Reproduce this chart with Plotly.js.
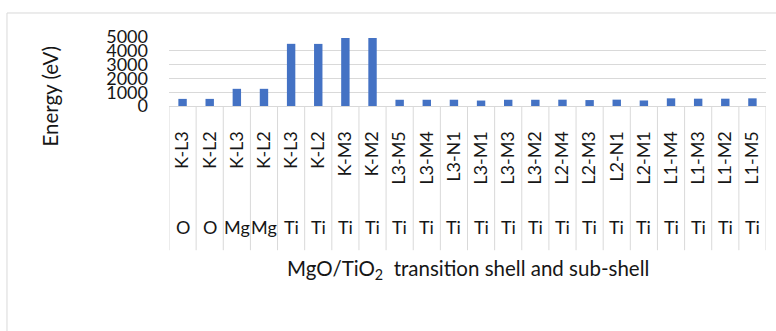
<!DOCTYPE html>
<html>
<head>
<meta charset="utf-8">
<script src="https://cdn.plot.ly/plotly-3.0.1.min.js"></script>
<style>html,body{margin:0;padding:0;background:#fff;}#chart{width:776px;height:331px;}</style>
</head>
<body>
<div id="chart"></div>
<script>
const elements = ["O","O","Mg","Mg","Ti","Ti","Ti","Ti","Ti","Ti","Ti","Ti","Ti","Ti","Ti","Ti","Ti","Ti","Ti","Ti","Ti","Ti"];
const shells = ["K-L3","K-L2","K-L3","K-L2","K-L3","K-L2","K-M3","K-M2","L3-M5","L3-M4","L3-N1","L3-M1","L3-M3","L3-M2","L2-M4","L2-M3","L2-N1","L2-M1","L1-M4","L1-M3","L1-M2","L1-M5"];
const energies = [515,515,1245,1245,4505,4500,4930,4930,452,452,455,395,452,452,458,430,460,401,555,530,530,555];
const yTicks = [0,1000,2000,3000,4000,5000];

const FONT = "Lato, 'Open Sans', sans-serif";
const TXT = "#161616";
const GRID = "#d9d9d9";

const cats = elements.map((e,i) => e + " " + shells[i]);

const trace = {
  type: "bar",
  x: cats,
  y: energies,
  marker: {color: "#4472C4"},
  hoverinfo: "x+y"
};

const divBottom = -2.09;
const shapes = [];
for (let i = 0; i <= cats.length; i++) {
  shapes.push({type: "line", xref: "x", yref: "paper", x0: i - 0.5, x1: i - 0.5, y0: 0, y1: divBottom,
    line: {color: GRID, width: 1}});
}
shapes.push({type: "line", xref: "paper", yref: "paper", x0: -0.2714, x1: -0.2714, y0: 1.348, y1: -3.6, line: {color: GRID, width: 1}});
shapes.push({type: "line", xref: "paper", yref: "paper", x0: -0.2714, x1: 1.1, y0: 1.348, y1: 1.348, line: {color: GRID, width: 1}});

const annotations = elements.map((e,i) => ({
  xref: "x", yref: "paper", x: cats[i], y: -1.754, text: e, showarrow: false,
  xanchor: "center", yanchor: "middle", font: {family: FONT, size: 18, color: TXT}
}));
annotations.push({xref: "paper", yref: "paper", x: -0.2, y: 0.145, text: "Energy (eV)", textangle: -90,
  showarrow: false, xanchor: "center", yanchor: "middle", font: {family: FONT, size: 20.5, color: TXT}});
annotations.push({xref: "paper", yref: "paper", x: 0.5, y: -2.37, text: "MgO/TiO<sub>2</sub>  transition shell and sub-shell",
  showarrow: false, xanchor: "center", yanchor: "middle", font: {family: FONT, size: 20.5, color: TXT}});

const layout = {
  width: 776, height: 331,
  margin: {l: 169, r: 10, t: 37, b: 225, pad: 0},
  paper_bgcolor: "#fff", plot_bgcolor: "#fff",
  showlegend: false,
  bargap: 0.69,
  font: {family: FONT, size: 18, color: TXT},
  xaxis: {
    type: "category", range: [-0.5, cats.length - 0.5],
    tickmode: "array", tickvals: cats, ticktext: shells, tickangle: -90,
    ticks: "", showgrid: false, zeroline: false, showline: true, linecolor: GRID, linewidth: 1,
    ticklabelstandoff: 17,
    tickfont: {family: FONT, size: 18, color: TXT}
  },
  yaxis: {
    range: [0, 5000], tickmode: "array", tickvals: yTicks, ticktext: yTicks.map(String),
    showgrid: true, gridcolor: GRID, gridwidth: 1, zeroline: false, showline: false, ticks: "",
    ticklabelstandoff: 20,
    tickfont: {family: FONT, size: 18, color: TXT}
  },
  shapes: shapes,
  annotations: annotations
};

Plotly.newPlot("chart", [trace], layout, {displayModeBar: false, staticPlot: true});
</script>
</body>
</html>
